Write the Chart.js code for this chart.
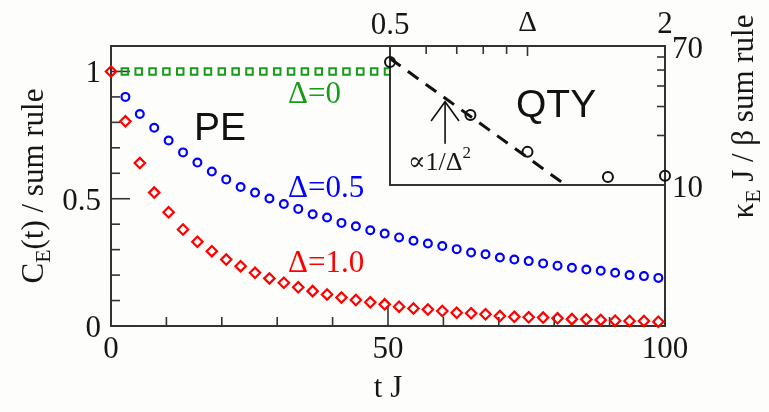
<!DOCTYPE html>
<html>
<head>
<meta charset="utf-8">
<script src="https://cdn.jsdelivr.net/npm/chart.js@4.4.1/dist/chart.umd.min.js"></script>
<style>
  body { margin: 0; background: #fdfdfc; }
  #wrap { position: relative; width: 769px; height: 412px; }
  #wrap canvas { position: absolute; left: 0; top: 0; }
</style>
</head>
<body>
<div id="wrap">
  <canvas id="mainChart" width="769" height="412"></canvas>
  <canvas id="insetChart" width="769" height="412"></canvas>
</div>
<script>
// main panel: C_E(t) / sum rule vs t J
const tSamples = [0, 2.6, 5.2, 7.8, 10.4, 13, 15.6, 18.2, 20.8, 23.4, 26, 28.6, 31.2, 33.8, 36.4, 39,
  41.6, 44.2, 46.8, 49.4, 52, 54.6, 57.2, 59.8, 62.4, 65, 67.6, 70.2, 72.8, 75.4, 78, 80.6, 83.2,
  85.8, 88.4, 91, 93.6, 96.2, 98.8];
const delta05 = [null, 0.90, 0.833, 0.779, 0.729, 0.682, 0.642, 0.607, 0.576, 0.546, 0.524, 0.501,
  0.479, 0.460, 0.439, 0.426, 0.405, 0.392, 0.376, 0.363, 0.348, 0.335, 0.324, 0.314, 0.302, 0.289,
  0.282, 0.269, 0.261, 0.255, 0.246, 0.237, 0.229, 0.222, 0.217, 0.209, 0.200, 0.196, 0.189];
const delta10 = [1.0, 0.804, 0.640, 0.524, 0.447, 0.379, 0.331, 0.294, 0.261, 0.235, 0.209, 0.187,
  0.170, 0.152, 0.137, 0.124, 0.112, 0.102, 0.093, 0.085, 0.076, 0.069, 0.065, 0.059, 0.052, 0.050,
  0.046, 0.039, 0.036, 0.034, 0.033, 0.030, 0.027, 0.026, 0.024, 0.021, 0.020, 0.020, 0.017];
const tGreen = [2.5, 5, 7.5, 10, 12.5, 15, 17.5, 20, 22.5, 25, 27.5, 30, 32.5, 35, 37.5, 40, 42.5, 45, 47.5, 50];
const delta0 = [1, 1, 1, 1, 1, 1, 1, 1, 1, 1, 1, 1, 1, 1, 1, 1, 1, 1, 1, 1];

const xMajor = [0, 50, 100];
const xMajorLabels = ['0', '50', '100'];
const xMinor = [10, 20, 30, 40, 60, 70, 80, 90];
const yMajor = [0, 0.5, 1];
const yMajorLabels = ['0', '0.5', '1'];
const yMinor = [0.1, 0.2, 0.3, 0.4, 0.6, 0.7, 0.8, 0.9];

// inset: kappa_E J / beta sum rule vs Delta (log-log)
const insetDelta = [0.5, 0.75, 1.0, 1.5, 2.0];
const insetKappa = [56, 26.6, 15.9, 11.2, 11.4];
const fitDelta = [0.5, 1.2];
const fitKappa = [58.8, 10.2];
const arrowStemDelta = [0.66, 0.66];
const arrowStemKappa = [17.8, 32.1];
const arrowHeadDelta = [0.615, 0.66, 0.708];
const arrowHeadKappa = [24.5, 32.1, 24.5];
const deltaMinor = [0.6, 0.7, 0.8, 0.9, 1.0];
const deltaEndLabels = ['0.5', '2'];
const kappaMinor = [20, 30, 40, 50, 60];
const kappaEndLabels = ['70', '10'];

const SERIF = '"Liberation Serif", "DejaVu Serif", "Noto Serif", serif';
const SANS = '"Liberation Sans", Arial, sans-serif';
const GREEN = '#1a9a1a';
const BLUE = '#0000ff';
const RED = '#ff0000';
const FRAME = '#333333';
const INK = '#161616';

function pts(xs, ys) {
  return xs.map((x, i) => ({x: x, y: ys[i]}));
}

// draw text made of pieces [text, sizeFactor, dy]
function drawRich(ctx, parts, x, y, size, align) {
  let widths = parts.map(p => {
    ctx.font = (size * p[1]) + 'px ' + SERIF;
    return ctx.measureText(p[0]).width;
  });
  let total = widths.reduce((a, b) => a + b, 0);
  let cx = align === 'center' ? x - total / 2 : x;
  ctx.textAlign = 'left';
  ctx.textBaseline = 'alphabetic';
  parts.forEach((p, i) => {
    ctx.font = (size * p[1]) + 'px ' + SERIF;
    ctx.fillText(p[0], cx, y + p[2]);
    cx += widths[i];
  });
}

function line(ctx, x1, y1, x2, y2) {
  ctx.beginPath();
  ctx.moveTo(x1, y1);
  ctx.lineTo(x2, y2);
  ctx.stroke();
}

const mainDecor = {
  id: 'mainDecor',
  beforeDatasetsDraw(chart) {
    const {ctx, chartArea: a, scales} = chart;
    ctx.save();
    ctx.strokeStyle = FRAME;
    ctx.lineWidth = 2;
    ctx.strokeRect(a.left, a.top, a.right - a.left, a.bottom - a.top);
    ctx.lineWidth = 1.6;
    xMajor.forEach(v => { const px = scales.x.getPixelForValue(v); line(ctx, px, a.bottom, px, a.bottom - 19); });
    xMinor.forEach(v => { const px = scales.x.getPixelForValue(v); line(ctx, px, a.bottom, px, a.bottom - 9); });
    yMajor.forEach(v => { const py = scales.y.getPixelForValue(v); line(ctx, a.left, py, a.left + 19, py); });
    yMinor.forEach(v => { const py = scales.y.getPixelForValue(v); line(ctx, a.left, py, a.left + 9, py); });
    ctx.restore();
  },
  afterDraw(chart) {
    const {ctx, chartArea: a, scales} = chart;
    ctx.save();
    ctx.fillStyle = INK;
    ctx.font = '31px ' + SERIF;
    ctx.textBaseline = 'alphabetic';
    ctx.textAlign = 'center';
    xMajor.forEach((v, i) => ctx.fillText(xMajorLabels[i], scales.x.getPixelForValue(v), a.bottom + 32));
    ctx.textAlign = 'right';
    yMajor.forEach((v, i) => ctx.fillText(yMajorLabels[i], a.left - 10, scales.y.getPixelForValue(v) + 11));
    ctx.textAlign = 'center';
    ctx.fillText('t J', (a.left + a.right) / 2, 397);

    // y title, rotated
    ctx.save();
    ctx.translate(43, (a.top + a.bottom) / 2);
    ctx.rotate(-Math.PI / 2);
    drawRich(ctx, [['C', 1, 0], ['E', 0.7, 7], ['(t) / sum rule', 1, 0]], 0, 0, 31, 'center');
    ctx.restore();

    // curve labels
    ctx.textAlign = 'left';
    ctx.font = '31px ' + SERIF;
    ctx.fillStyle = GREEN;
    ctx.fillText('\u0394=0', 288, 103);
    ctx.fillStyle = BLUE;
    ctx.fillText('\u0394=0.5', 288, 197);
    ctx.fillStyle = RED;
    ctx.fillText('\u0394=1.0', 288, 272);
    ctx.fillStyle = '#111';
    ctx.font = '39px ' + SANS;
    ctx.fillText('PE', 194, 140);
    ctx.restore();
  }
};

new Chart(document.getElementById('mainChart'), {
  type: 'scatter',
  data: {
    datasets: [
      {data: pts(tSamples, delta10), pointStyle: 'rectRot', pointRadius: 5.2, borderColor: RED,
        backgroundColor: 'rgba(0,0,0,0)', pointBorderWidth: 2.2, clip: false},
      {data: pts(tSamples, delta05), pointStyle: 'circle', pointRadius: 3.9, borderColor: BLUE,
        backgroundColor: 'rgba(0,0,0,0)', pointBorderWidth: 2.2, clip: false},
      {data: pts(tGreen, delta0), pointStyle: 'rect', pointRadius: 4.6, borderColor: GREEN,
        backgroundColor: 'rgba(0,0,0,0)', pointBorderWidth: 2, clip: false}
    ]
  },
  options: {
    responsive: false,
    animation: false,
    layout: {padding: {left: 111, top: 46, right: 104, bottom: 86}},
    plugins: {legend: {display: false}, tooltip: {enabled: false}},
    scales: {
      x: {type: 'linear', min: 0, max: 100, display: false},
      y: {type: 'linear', min: 0, max: 1.1, display: false}
    }
  },
  plugins: [mainDecor]
});

const insetDecor = {
  id: 'insetDecor',
  beforeDatasetsDraw(chart) {
    const {ctx, chartArea: a, scales} = chart;
    ctx.save();
    ctx.fillStyle = '#fdfdfc';
    ctx.fillRect(a.left, a.top, a.right - a.left, a.bottom - a.top);
    ctx.strokeStyle = FRAME;
    ctx.lineWidth = 2;
    ctx.strokeRect(a.left, a.top, a.right - a.left, a.bottom - a.top);
    ctx.lineWidth = 1.6;
    deltaMinor.forEach(v => { const px = scales.x.getPixelForValue(v); line(ctx, px, a.top, px, a.top + (v === 1 ? 10 : 8)); });
    kappaMinor.forEach(v => { const py = scales.y.getPixelForValue(v); line(ctx, a.right, py, a.right - 8, py); });
    ctx.restore();
  },
  afterDraw(chart) {
    const {ctx, chartArea: a, scales} = chart;
    ctx.save();
    ctx.fillStyle = INK;
    ctx.font = '31px ' + SERIF;
    ctx.textAlign = 'center';
    ctx.textBaseline = 'alphabetic';
    ctx.fillText(deltaEndLabels[0], scales.x.getPixelForValue(0.5), 34);
    ctx.fillText(deltaEndLabels[1], scales.x.getPixelForValue(2), 33);
    ctx.font = '29px ' + SERIF;
    ctx.fillText('\u0394', (a.left + a.right) / 2, 31);
    ctx.font = '31px ' + SERIF;
    ctx.textAlign = 'left';
    ctx.fillText(kappaEndLabels[0], a.right + 7, scales.y.getPixelForValue(70) + 12);
    ctx.fillText(kappaEndLabels[1], a.right + 7, scales.y.getPixelForValue(10) + 12);

    // right title, rotated
    ctx.save();
    ctx.translate(753, (a.top + a.bottom) / 2 + 1);
    ctx.rotate(-Math.PI / 2);
    drawRich(ctx, [['\u03ba', 1, 0], ['E', 0.7, 7], [' J / \u03b2 sum rule', 1, 0]], 0, 0, 31, 'center');
    ctx.restore();

    drawRich(ctx, [['\u221d1/\u0394', 1, 0], ['2', 0.65, -12]], 408, 170, 26, 'left');
    ctx.font = '39px ' + SANS;
    ctx.textAlign = 'left';
    ctx.fillStyle = '#111';
    ctx.fillText('QTY', 516, 117);
    ctx.restore();
  }
};

new Chart(document.getElementById('insetChart'), {
  type: 'scatter',
  data: {
    datasets: [
      {data: pts(insetDelta, insetKappa), pointStyle: 'circle', pointRadius: 5, borderColor: '#111',
        backgroundColor: 'rgba(0,0,0,0)', pointBorderWidth: 2, clip: false},
      {data: pts(fitDelta, fitKappa), showLine: true, borderColor: '#111', borderWidth: 3,
        borderDash: [13, 9], pointRadius: 0, clip: false},
      {data: pts(arrowStemDelta, arrowStemKappa), showLine: true, borderColor: '#111', borderWidth: 1.6,
        pointRadius: 0, clip: false},
      {data: pts(arrowHeadDelta, arrowHeadKappa), showLine: true, borderColor: '#111', borderWidth: 1.6,
        pointRadius: 0, clip: false}
    ]
  },
  options: {
    responsive: false,
    animation: false,
    layout: {padding: {left: 390, top: 46, right: 104, bottom: 227}},
    plugins: {legend: {display: false}, tooltip: {enabled: false}},
    scales: {
      x: {type: 'logarithmic', min: 0.5, max: 2, display: false},
      y: {type: 'logarithmic', min: 10, max: 70, display: false}
    }
  },
  plugins: [insetDecor]
});
</script>
</body>
</html>
